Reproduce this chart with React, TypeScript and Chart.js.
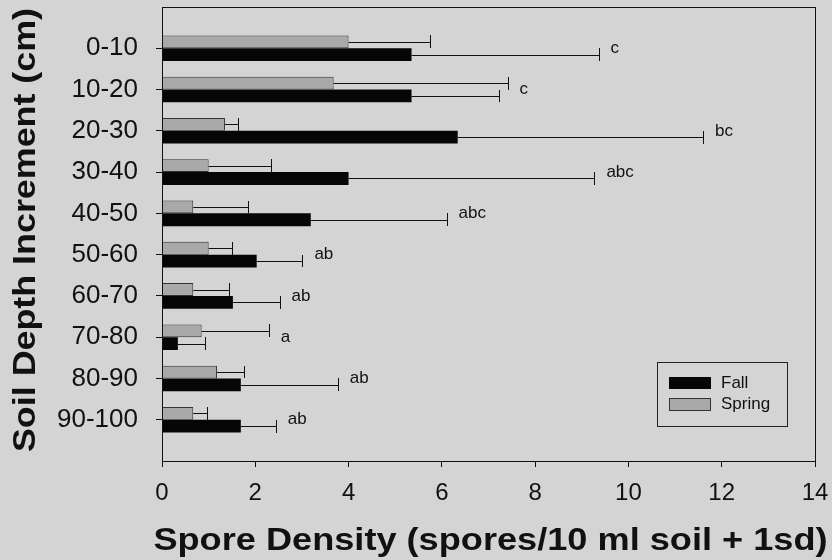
import React, { useEffect, useRef } from "react";
import { Chart, registerables } from "chart.js";

Chart.register(...registerables);

// ---- data ----
const depthLabels = ["0-10", "10-20", "20-30", "30-40", "40-50", "50-60", "60-70", "70-80", "80-90", "90-100"];
const fallMeans = [5.35, 5.35, 6.34, 4.0, 3.19, 2.03, 1.52, 0.34, 1.69, 1.69];
const fallUpper = [9.36, 7.22, 11.6, 9.27, 6.1, 3.01, 2.52, 0.92, 3.77, 2.44];
const springMeans = [4.0, 3.68, 1.35, 1.0, 0.67, 1.0, 0.67, 0.85, 1.18, 0.67];
const springUpper = [5.74, 7.41, 1.63, 2.33, 1.84, 1.51, 1.44, 2.29, 1.75, 0.96];
const letters = ["c", "c", "bc", "abc", "abc", "ab", "ab", "a", "ab", "ab"];
const xMin = 0;
const xMax = 14;
const xStep = 2;
const xTitle = "Spore Density (spores/10 ml soil + 1sd)";
const yTitle = "Soil Depth Increment (cm)";
const fallLabel = "Fall";
const springLabel = "Spring";

const FONT = "'Liberation Sans', Arial, Helvetica, sans-serif";
const INK = "#111111";
const BG = "#d4d4d4";
const SPRING_FILL = "#a9a9a9";
const FALL_FILL = "#060606";

function stretchedText(
  ctx: CanvasRenderingContext2D,
  text: string,
  cx: number,
  cy: number,
  sx: number,
  rot: number
) {
  ctx.save();
  ctx.translate(cx, cy);
  ctx.rotate(rot);
  ctx.scale(sx, 1);
  ctx.fillText(text, 0, 0);
  ctx.restore();
}

const overlayPlugin = {
  id: "overlay",
  afterDatasetsDraw(chart: any) {
    const ctx: CanvasRenderingContext2D = chart.ctx;
    const xs = chart.scales.x;
    const ys = chart.scales.y;
    ctx.save();
    ctx.strokeStyle = INK;
    ctx.lineWidth = 1;
    const series = [
      { idx: 0, upper: springUpper },
      { idx: 1, upper: fallUpper },
    ];
    series.forEach((s) => {
      const meta = chart.getDatasetMeta(s.idx);
      meta.data.forEach((el: any, i: number) => {
        const y = Math.round(el.y) + 0.5;
        const x0 = el.x;
        const x1 = Math.round(xs.getPixelForValue(s.upper[i])) + 0.5;
        const h = el.height;
        ctx.beginPath();
        ctx.moveTo(x0, y);
        ctx.lineTo(x1, y);
        ctx.moveTo(x1, Math.round(el.y - h / 2));
        ctx.lineTo(x1, Math.round(el.y + h / 2));
        ctx.stroke();
      });
    });
    ctx.fillStyle = INK;
    ctx.font = `17px ${FONT}`;
    ctx.textAlign = "left";
    ctx.textBaseline = "middle";
    letters.forEach((t, i) => {
      const x = Math.max(xs.getPixelForValue(fallUpper[i]), xs.getPixelForValue(springUpper[i])) + 12;
      ctx.fillText(t, x, ys.getPixelForValue(i + 1));
    });
    ctx.restore();
  },
  afterDraw(chart: any) {
    const ctx: CanvasRenderingContext2D = chart.ctx;
    const a = chart.chartArea;
    ctx.save();
    // frame
    ctx.strokeStyle = INK;
    ctx.lineWidth = 1;
    ctx.strokeRect(Math.round(a.left) + 0.5, Math.round(a.top) + 0.5, Math.round(a.right - a.left), Math.round(a.bottom - a.top));

    // legend
    const lx = a.right - 158;
    const ly = a.bottom - 99;
    ctx.strokeStyle = "#222";
    ctx.strokeRect(lx + 0.5, ly + 0.5, 130, 64);
    ctx.fillStyle = FALL_FILL;
    ctx.fillRect(lx + 12, ly + 15, 42, 12);
    ctx.fillStyle = SPRING_FILL;
    ctx.fillRect(lx + 12, ly + 36, 42, 13);
    ctx.strokeStyle = "#333";
    ctx.strokeRect(lx + 12.5, ly + 36.5, 41, 12);
    ctx.fillStyle = INK;
    ctx.font = `17px ${FONT}`;
    ctx.textAlign = "left";
    ctx.textBaseline = "middle";
    ctx.fillText(fallLabel, lx + 64, ly + 21);
    ctx.fillText(springLabel, lx + 64, ly + 42);

    // axis titles
    ctx.font = `bold 32px ${FONT}`;
    ctx.textAlign = "center";
    ctx.textBaseline = "alphabetic";
    stretchedText(ctx, xTitle, 490.5, 550, 1.13, 0);
    stretchedText(ctx, yTitle, 35, 230, 1.12, -Math.PI / 2);
    ctx.restore();
  },
};

export default function App() {
  const ref = useRef<HTMLCanvasElement | null>(null);
  useEffect(() => {
    if (!ref.current) return;
    const chart = new Chart(ref.current, {
      type: "bar",
      data: {
        datasets: [
          {
            label: springLabel,
            data: springMeans.map((v, i) => ({ x: v, y: i + 1 })),
            backgroundColor: SPRING_FILL,
            borderColor: "#333333",
            borderWidth: 1,
            categoryPercentage: 0.62,
            barPercentage: 1,
          } as any,
          {
            label: fallLabel,
            data: fallMeans.map((v, i) => ({ x: v, y: i + 1 })),
            backgroundColor: FALL_FILL,
            borderWidth: 0,
            categoryPercentage: 0.62,
            barPercentage: 1,
          } as any,
        ],
      },
      options: {
        indexAxis: "y",
        responsive: false,
        animation: false,
        devicePixelRatio: 1,
        layout: { autoPadding: false, padding: { left: 0, top: 7, right: 17, bottom: 0 } },
        plugins: {
          legend: { display: false },
          tooltip: { enabled: false },
        },
        scales: {
          x: {
            type: "linear",
            min: xMin,
            max: xMax,
            ticks: {
              stepSize: xStep,
              color: INK,
              font: { family: FONT, size: 24 },
              padding: 12,
              maxRotation: 0,
            },
            grid: {
              display: true,
              drawOnChartArea: false,
              drawTicks: true,
              tickLength: 6,
              tickColor: INK,
            },
            border: { display: false },
            afterFit: (s: any) => {
              s.height = 99;
              s.paddingLeft = 0;
              s.paddingRight = 0;
            },
          },
          y: {
            type: "linear",
            min: 0,
            max: 11,
            reverse: true,
            offset: false,
            ticks: {
              stepSize: 1,
              autoSkip: false,
              color: INK,
              font: { family: FONT, size: 26 },
              padding: 18,
              callback: (v: any) => {
                const i = Math.round(Number(v)) - 1;
                return depthLabels[i] ?? "";
              },
            },
            grid: {
              display: true,
              offset: false,
              drawOnChartArea: false,
              drawTicks: true,
              tickLength: 6,
              tickColor: (c: any) =>
                c.tick && c.tick.value >= 1 && c.tick.value <= depthLabels.length ? INK : "rgba(0,0,0,0)",
            },
            border: { display: false },
            afterFit: (s: any) => {
              s.width = 162;
              s.paddingTop = 0;
              s.paddingBottom = 0;
            },
          },
        },
      } as any,
      plugins: [overlayPlugin],
    });
    return () => chart.destroy();
  }, []);

  return (
    <div style={{ position: "fixed", left: 0, top: 0, width: 832, height: 560, background: BG }}>
      <canvas ref={ref} width={832} height={560} style={{ display: "block" }} />
    </div>
  );
}
